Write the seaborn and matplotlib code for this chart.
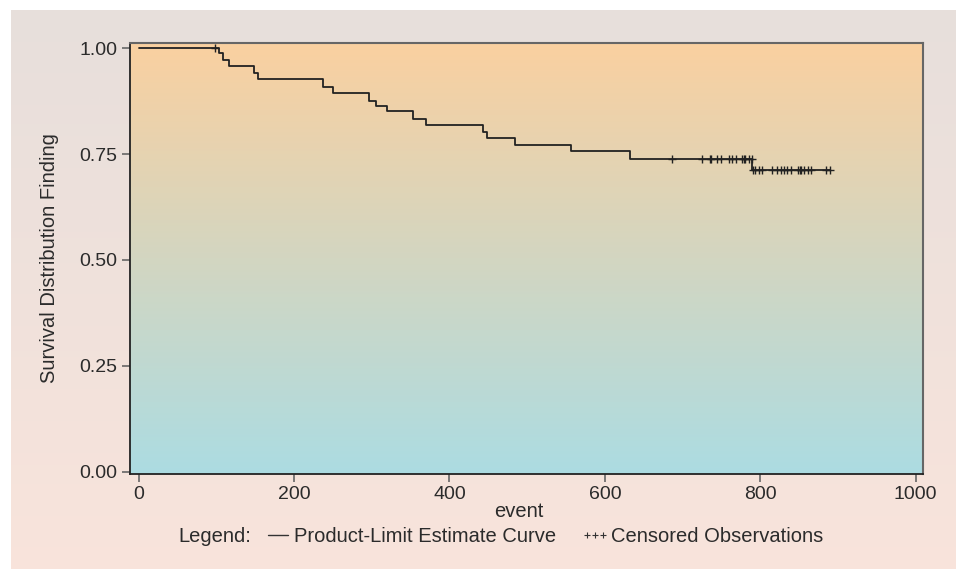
import numpy as np
import matplotlib
matplotlib.use("Agg")
import matplotlib.pyplot as plt
import seaborn as sns
from matplotlib.lines import Line2D
from matplotlib.legend_handler import HandlerLine2D

# Kaplan-Meier step curve
event_time = [0, 103.6, 108.8, 116.5, 148.4, 153.9, 237.8, 249.9, 296.8, 305.8,
              319.6, 353.0, 369.5, 443.5, 447.7, 484.3, 557.0, 632.3, 789.7, 890.0]
survival = [1.0, 0.988, 0.971, 0.957, 0.941, 0.927, 0.909, 0.894, 0.876, 0.864,
            0.851, 0.832, 0.819, 0.802, 0.789, 0.772, 0.757, 0.739, 0.712, 0.712]

# censored observations
censor_time = [98, 686, 725, 735.5, 736.8, 744.5, 748.8, 759.1, 763.9, 769,
               776.3, 778.5, 780.6, 785.4, 788.8,
               790.5, 793.5, 797.8, 802.6, 815, 821.9, 827.1, 830.1, 834.4, 839.1,
               848.6, 850.8, 852.9, 856, 861.6, 865.8, 885.2, 890.3]

x_ticks = [0, 200, 400, 600, 800, 1000]
y_ticks = [0.0, 0.25, 0.50, 0.75, 1.0]

sns.set_style("ticks")
plt.rcParams['font.family'] = ['Liberation Sans', 'DejaVu Sans']
text_col = '#2b2b2b'
fs = 14.5

fig = plt.figure(figsize=(9.56, 5.69), dpi=100)
fig.patch.set_facecolor('white')

# outer panel gradient (white margin only on top and left)
left0 = 11 / 956
top0 = 1 - 10 / 569
bg = fig.add_axes([left0, -0.02, 1 - left0 + 0.02, top0 + 0.02], zorder=-2)
bg.axis('off')
top_c = np.array([231, 223, 220]) / 255
bot_c = np.array([249, 228, 219]) / 255
t = np.linspace(0, 1, 256)[:, None]
bg.imshow((top_c * (1 - t) + bot_c * t)[:, None, :], aspect='auto', extent=[0, 1, 0, 1])
bg.set_xlim(0, 1)
bg.set_ylim(0, 1)

ax = fig.add_axes([129.7 / 956, 1 - 473.7 / 569, 793 / 956, 431 / 569])
ax.patch.set_visible(False)
xlim = (-11.5, 1009)
ylim = (-0.005, 1.013)
ptop = np.array([250, 208, 160]) / 255
pbot = np.array([172, 220, 226]) / 255
ax.imshow((ptop * (1 - t) + pbot * t)[:, None, :], aspect='auto',
          extent=[xlim[0], xlim[1], ylim[0], ylim[1]], zorder=0)

sns.lineplot(x=event_time, y=survival, ax=ax, estimator=None, drawstyle='steps-post',
             color='#222222', linewidth=1.3, zorder=3)

idx = np.searchsorted(event_time, censor_time, side='right') - 1
censor_surv = np.array(survival)[idx]
sns.scatterplot(x=censor_time, y=censor_surv, ax=ax, marker='+', s=30,
                color='#222222', linewidth=1.0, zorder=4)

ax.set_xlim(*xlim)
ax.set_ylim(*ylim)
ax.set_xticks(x_ticks)
ax.set_yticks(y_ticks)
ax.set_yticklabels([f'{v:.2f}' for v in y_ticks])
ax.tick_params(axis='both', direction='out', length=6, width=1.2, color='#666666',
               labelsize=14, labelcolor=text_col, pad=3)

for side in ['left', 'bottom']:
    ax.spines[side].set_color('#222222')
    ax.spines[side].set_linewidth(1.3)
for side in ['top', 'right']:
    ax.spines[side].set_visible(True)
    ax.spines[side].set_color('#666666')
    ax.spines[side].set_linewidth(1.5)

ax.set_xlabel('event', fontsize=fs, color=text_col)
ax.xaxis.label.set_verticalalignment('center')
ax.xaxis.set_label_coords(0.491, -0.088)
ax.set_ylabel('Survival Distribution Finding', fontsize=fs, color=text_col)
ax.yaxis.set_label_coords(-0.089, 0.5)

# legend
leg_y = 1 - 537 / 569
fig.text(178 / 956, leg_y, 'Legend:', fontsize=fs, color=text_col, va='center')
curve_h = Line2D([], [], color='#333333', linewidth=1.0)
cens_h = Line2D([], [], color='#333333', linestyle='none', marker='+',
                markersize=4, markeredgewidth=0.8)
fig.legend([curve_h, cens_h], ['Product-Limit Estimate Curve', 'Censored Observations'],
           loc='center left', bbox_to_anchor=(268 / 956, leg_y), ncol=2,
           frameon=False, fontsize=fs, labelcolor=text_col, handlelength=1.0,
           handletextpad=0.3, columnspacing=1.4, numpoints=3, borderpad=0,
           borderaxespad=0,
           handler_map={curve_h: HandlerLine2D(marker_pad=0.0),
                        cens_h: HandlerLine2D(marker_pad=0.1)})

fig.savefig('out.png', dpi=100)
